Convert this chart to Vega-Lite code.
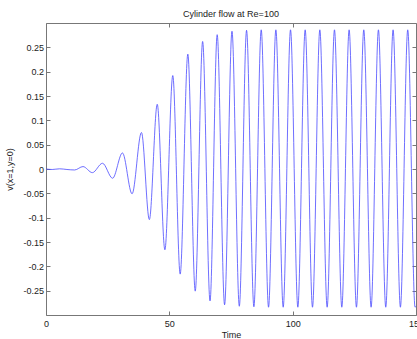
{
  "$schema": "https://vega.github.io/schema/vega-lite/v6.json",
  "width": 370,
  "height": 292,
  "autosize": "none",
  "padding": {"left": 46, "top": 23, "right": 1, "bottom": 24},
  "background": "#ffffff",
  "title": {"text": "Cylinder flow at Re=100", "font": "Liberation Sans", "fontSize": 9, "fontWeight": "normal", "color": "#222222", "offset": 4},
  "config": {
    "view": {"stroke": "#777777", "strokeWidth": 1},
    "axis": {
      "domain": false, "grid": false, "tickColor": "#777777", "tickSize": -4, "tickWidth": 1,
      "labelFont": "Liberation Sans", "labelFontSize": 9, "labelColor": "#222222",
      "titleFont": "Liberation Sans", "titleFontSize": 9, "titleFontWeight": "normal", "titleColor": "#222222"
    }
  },
  "data": {"values": [
    {"time": 0, "v": 0},
    {"time": 2.5, "v": -0.001},
    {"time": 5.5, "v": 0.0004},
    {"time": 8.5, "v": -0.001},
    {"time": 11.6, "v": -0.002},
    {"time": 15.0, "v": 0.005},
    {"time": 18.8, "v": -0.0075},
    {"time": 22.9, "v": 0.0118},
    {"time": 27.0, "v": -0.019},
    {"time": 31.0, "v": 0.033},
    {"time": 34.9, "v": -0.051},
    {"time": 38.7, "v": 0.075},
    {"time": 41.9, "v": -0.104},
    {"time": 45.1, "v": 0.133},
    {"time": 48.2, "v": -0.166},
    {"time": 51.4, "v": 0.192},
    {"time": 54.4, "v": -0.216},
    {"time": 57.5, "v": 0.236},
    {"time": 60.5, "v": -0.251},
    {"time": 63.5, "v": 0.262},
    {"time": 66.5, "v": -0.271},
    {"time": 69.4, "v": 0.276},
    {"time": 72.4, "v": -0.279},
    {"time": 75.4, "v": 0.283},
    {"time": 78.37, "v": -0.282},
    {"time": 81.31, "v": 0.285},
    {"time": 84.28, "v": -0.283},
    {"time": 87.25, "v": 0.286},
    {"time": 90.22, "v": -0.284},
    {"time": 93.19, "v": 0.286},
    {"time": 96.16, "v": -0.284},
    {"time": 99.13, "v": 0.286},
    {"time": 102.1, "v": -0.284},
    {"time": 105.07, "v": 0.286},
    {"time": 108.04, "v": -0.284},
    {"time": 111.01, "v": 0.286},
    {"time": 113.98, "v": -0.284},
    {"time": 116.95, "v": 0.286},
    {"time": 119.92, "v": -0.284},
    {"time": 122.89, "v": 0.286},
    {"time": 125.86, "v": -0.284},
    {"time": 128.83, "v": 0.286},
    {"time": 131.8, "v": -0.284},
    {"time": 134.77, "v": 0.286},
    {"time": 137.74, "v": -0.284},
    {"time": 140.71, "v": 0.286},
    {"time": 143.68, "v": -0.284},
    {"time": 146.65, "v": 0.286},
    {"time": 149.62, "v": -0.284},
    {"time": 150, "v": -0.282}
  ]},
  "layer": [
    {
      "mark": {"type": "line", "interpolate": "monotone", "color": "#4a4aff", "strokeWidth": 0.8, "clip": true},
      "encoding": {
        "x": {"field": "time", "type": "quantitative", "scale": {"domain": [0, 150], "nice": false, "zero": false},
              "axis": {"orient": "bottom", "values": [0, 50, 100, 150], "title": "Time", "labelFlush": false, "labelPadding": 8, "titlePadding": 2}},
        "y": {"field": "v", "type": "quantitative", "scale": {"domain": [-0.3, 0.3], "nice": false, "zero": false},
              "axis": {"orient": "left", "values": [-0.25, -0.2, -0.15, -0.1, -0.05, 0, 0.05, 0.1, 0.15, 0.2, 0.25], "title": "v(x=1,y=0)", "labelPadding": 6.5, "titlePadding": 8,
                       "labelExpr": "datum.value == 0 ? '0' : (datum.value < 0 ? '-' : '') + format(abs(datum.value), '~g')"}}
      }
    },
    {
      "mark": {"type": "line", "opacity": 0},
      "encoding": {
        "x": {"field": "time", "type": "quantitative", "scale": {"domain": [0, 150], "nice": false, "zero": false},
              "axis": {"orient": "top", "values": [0, 50, 100, 150], "labels": false, "title": null}},
        "y": {"field": "v", "type": "quantitative", "scale": {"domain": [-0.3, 0.3], "nice": false, "zero": false},
              "axis": {"orient": "right", "values": [-0.25, -0.2, -0.15, -0.1, -0.05, 0, 0.05, 0.1, 0.15, 0.2, 0.25], "labels": false, "title": null}}
      }
    }
  ],
  "resolve": {"axis": {"x": "independent", "y": "independent"}}
}
